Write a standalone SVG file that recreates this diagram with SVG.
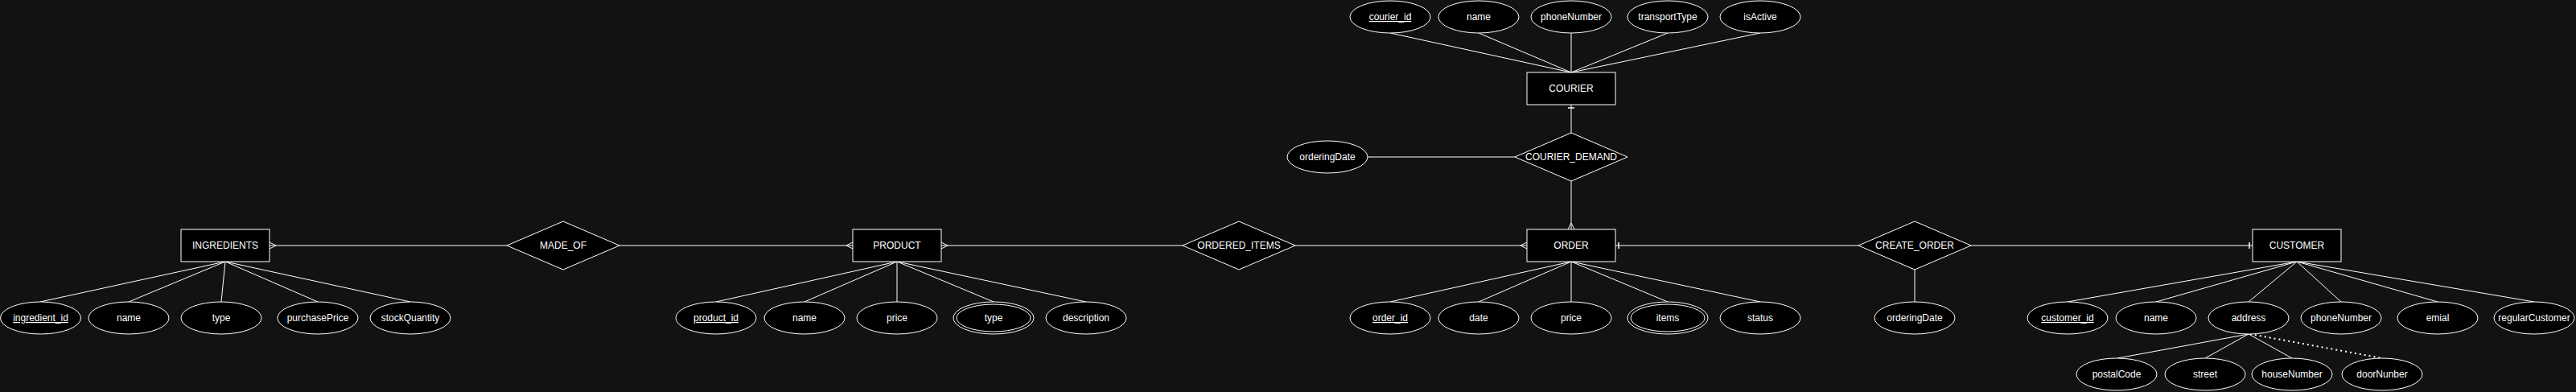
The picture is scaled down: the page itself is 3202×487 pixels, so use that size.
<svg xmlns="http://www.w3.org/2000/svg" width="3202" height="487" viewBox="0 0 3202 487">
<style>
.bg{fill:#121212}
.ent{fill:#000;stroke:#fff;stroke-width:1}
.rel{fill:#000;stroke:#fff;stroke-width:1}
.att{fill:#000;stroke:#fff;stroke-width:1}
.t{font-family:"Liberation Sans",Arial,Helvetica,sans-serif;font-size:12px;fill:#fff;text-anchor:middle}
.key{text-decoration:underline}
.ln{fill:none;stroke:#fff;stroke-width:1}
.dot{fill:none;stroke:#fff;stroke-width:2;stroke-dasharray:2 4}
</style>
<defs>
<marker id="many" markerUnits="userSpaceOnUse" markerWidth="20" markerHeight="20" viewBox="0 0 20 20" refX="10" refY="10" orient="auto" overflow="visible">
<path d="M2,10 L10,6 M2,10 L10,14" fill="none" stroke="#fff" stroke-width="1"/>
</marker>
<marker id="one" markerUnits="userSpaceOnUse" markerWidth="20" markerHeight="20" viewBox="0 0 20 20" refX="10" refY="10" orient="auto" overflow="visible">
<path d="M6,6 L6,14" fill="none" stroke="#fff" stroke-width="1.5"/>
</marker>
</defs>
<rect class="bg" x="0" y="0" width="3202" height="487"/>

<g id="connectors">
<!-- relationships -->
<path class="ln" d="M630,305 L335,305" marker-end="url(#many)"/>
<path class="ln" d="M770,305 L1060,305" marker-end="url(#many)"/>
<path class="ln" d="M1470,305 L1170,305" marker-end="url(#many)"/>
<path class="ln" d="M1610,305 L1898,305" marker-end="url(#many)"/>
<path class="ln" d="M2310,305 L2008,305" marker-end="url(#one)"/>
<path class="ln" d="M2450,305 L2800,305" marker-end="url(#one)"/>
<path class="ln" d="M1953,225 L1953,285" marker-end="url(#many)"/>
<path class="ln" d="M1953,165 L1953,130" marker-end="url(#one)"/>
<path class="ln" d="M1700,195 L1883,195"/>
<path class="ln" d="M2380,335 L2380,375"/>
<!-- courier attributes -->
<path class="ln" d="M1728,41 L1953,90"/>
<path class="ln" d="M1838,41 L1953,90"/>
<path class="ln" d="M1953,41 L1953,90"/>
<path class="ln" d="M2073,41 L1953,90"/>
<path class="ln" d="M2188,41 L1953,90"/>
<!-- ingredients attributes -->
<path class="ln" d="M280,325 L50,375"/>
<path class="ln" d="M280,325 L160,375"/>
<path class="ln" d="M280,325 L275,375"/>
<path class="ln" d="M280,325 L395,375"/>
<path class="ln" d="M280,325 L510,375"/>
<!-- product attributes -->
<path class="ln" d="M1115,325 L890,375"/>
<path class="ln" d="M1115,325 L1000,375"/>
<path class="ln" d="M1115,325 L1115,375"/>
<path class="ln" d="M1115,325 L1235,375"/>
<path class="ln" d="M1115,325 L1350,375"/>
<!-- order attributes -->
<path class="ln" d="M1953,325 L1728,375"/>
<path class="ln" d="M1953,325 L1838,375"/>
<path class="ln" d="M1953,325 L1953,375"/>
<path class="ln" d="M1953,325 L2073,375"/>
<path class="ln" d="M1953,325 L2188,375"/>
<!-- customer attributes -->
<path class="ln" d="M2855,325 L2570,375"/>
<path class="ln" d="M2855,325 L2680,375"/>
<path class="ln" d="M2855,325 L2795,375"/>
<path class="ln" d="M2855,325 L2910,375"/>
<path class="ln" d="M2855,325 L3030,375"/>
<path class="ln" d="M2855,325 L3150,375"/>
<!-- address sub-attributes -->
<path class="ln" d="M2795,415 L2632,445"/>
<path class="ln" d="M2795,415 L2741,445"/>
<path class="ln" d="M2795,415 L2849,445"/>
<path class="dot" d="M2797,415 L2961,445"/>
</g>

<!-- entities -->
<g id="ingredients"><rect class="ent" x="225" y="285" width="110" height="40"/><text class="t" x="280" y="309">INGREDIENTS</text></g>
<g id="product"><rect class="ent" x="1060" y="285" width="110" height="40"/><text class="t" x="1115" y="309">PRODUCT</text></g>
<g id="order"><rect class="ent" x="1898" y="285" width="110" height="40"/><text class="t" x="1953" y="309">ORDER</text></g>
<g id="courier"><rect class="ent" x="1898" y="90" width="110" height="40"/><text class="t" x="1953" y="114">COURIER</text></g>
<g id="customer"><rect class="ent" x="2800" y="285" width="110" height="40"/><text class="t" x="2855" y="309">CUSTOMER</text></g>

<!-- relationships -->
<g id="made_of"><polygon class="rel" points="630,305 700,275 770,305 700,335"/><text class="t" x="700" y="309">MADE_OF</text></g>
<g id="ordered_items"><polygon class="rel" points="1470,305 1540,275 1610,305 1540,335"/><text class="t" x="1540" y="309">ORDERED_ITEMS</text></g>
<g id="create_order"><polygon class="rel" points="2310,305 2380,275 2450,305 2380,335"/><text class="t" x="2380" y="309">CREATE_ORDER</text></g>
<g id="courier_demand"><polygon class="rel" points="1883,195 1953,165 2023,195 1953,225"/><text class="t" x="1953" y="199">COURIER_DEMAND</text></g>

<!-- courier attributes -->
<g id="courier_courier_id"><ellipse class="att" cx="1728" cy="21" rx="50" ry="20"/><text class="t key" x="1728" y="25">courier_id</text></g>
<g id="courier_name"><ellipse class="att" cx="1838" cy="21" rx="50" ry="20"/><text class="t" x="1838" y="25">name</text></g>
<g id="courier_phoneNumber"><ellipse class="att" cx="1953" cy="21" rx="50" ry="20"/><text class="t" x="1953" y="25">phoneNumber</text></g>
<g id="courier_transportType"><ellipse class="att" cx="2073" cy="21" rx="50" ry="20"/><text class="t" x="2073" y="25">transportType</text></g>
<g id="courier_isActive"><ellipse class="att" cx="2188" cy="21" rx="50" ry="20"/><text class="t" x="2188" y="25">isActive</text></g>
<g id="courier_demand_orderingDate"><ellipse class="att" cx="1650" cy="195" rx="50" ry="20"/><text class="t" x="1650" y="199">orderingDate</text></g>

<!-- ingredients attributes -->
<g id="ingredients_ingredient_id"><ellipse class="att" cx="50.5" cy="395" rx="50" ry="20"/><text class="t key" x="50.5" y="399">ingredient_id</text></g>
<g id="ingredients_name"><ellipse class="att" cx="160" cy="395" rx="50" ry="20"/><text class="t" x="160" y="399">name</text></g>
<g id="ingredients_type"><ellipse class="att" cx="275" cy="395" rx="50" ry="20"/><text class="t" x="275" y="399">type</text></g>
<g id="ingredients_purchasePrice"><ellipse class="att" cx="395" cy="395" rx="50" ry="20"/><text class="t" x="395" y="399">purchasePrice</text></g>
<g id="ingredients_stockQuantity"><ellipse class="att" cx="510" cy="395" rx="50" ry="20"/><text class="t" x="510" y="399">stockQuantity</text></g>

<!-- product attributes -->
<g id="product_product_id"><ellipse class="att" cx="890" cy="395" rx="50" ry="20"/><text class="t key" x="890" y="399">product_id</text></g>
<g id="product_name"><ellipse class="att" cx="1000" cy="395" rx="50" ry="20"/><text class="t" x="1000" y="399">name</text></g>
<g id="product_price"><ellipse class="att" cx="1115" cy="395" rx="50" ry="20"/><text class="t" x="1115" y="399">price</text></g>
<g id="product_type"><ellipse class="att" cx="1235" cy="395" rx="50" ry="20"/><ellipse class="att" cx="1235" cy="395" rx="46" ry="17"/><text class="t" x="1235" y="399">type</text></g>
<g id="product_description"><ellipse class="att" cx="1350" cy="395" rx="50" ry="20"/><text class="t" x="1350" y="399">description</text></g>

<!-- order attributes -->
<g id="order_order_id"><ellipse class="att" cx="1728" cy="395" rx="50" ry="20"/><text class="t key" x="1728" y="399">order_id</text></g>
<g id="order_date"><ellipse class="att" cx="1838" cy="395" rx="50" ry="20"/><text class="t" x="1838" y="399">date</text></g>
<g id="order_price"><ellipse class="att" cx="1953" cy="395" rx="50" ry="20"/><text class="t" x="1953" y="399">price</text></g>
<g id="order_items"><ellipse class="att" cx="2073" cy="395" rx="50" ry="20"/><ellipse class="att" cx="2073" cy="395" rx="46" ry="17"/><text class="t" x="2073" y="399">items</text></g>
<g id="order_status"><ellipse class="att" cx="2188" cy="395" rx="50" ry="20"/><text class="t" x="2188" y="399">status</text></g>

<g id="create_order_orderingDate"><ellipse class="att" cx="2380" cy="395" rx="50" ry="20"/><text class="t" x="2380" y="399">orderingDate</text></g>

<!-- customer attributes -->
<g id="customer_customer_id"><ellipse class="att" cx="2570" cy="395" rx="50" ry="20"/><text class="t key" x="2570" y="399">customer_id</text></g>
<g id="customer_name"><ellipse class="att" cx="2680" cy="395" rx="50" ry="20"/><text class="t" x="2680" y="399">name</text></g>
<g id="customer_address"><ellipse class="att" cx="2795" cy="395" rx="50" ry="20"/><text class="t" x="2795" y="399">address</text></g>
<g id="customer_phoneNumber"><ellipse class="att" cx="2910" cy="395" rx="50" ry="20"/><text class="t" x="2910" y="399">phoneNumber</text></g>
<g id="customer_emial"><ellipse class="att" cx="3030" cy="395" rx="50" ry="20"/><text class="t" x="3030" y="399">emial</text></g>
<g id="customer_regularCustomer"><ellipse class="att" cx="3150" cy="395" rx="50" ry="20"/><text class="t" x="3150" y="399">regularCustomer</text></g>

<!-- address sub-attributes -->
<g id="address_postalCode"><ellipse class="att" cx="2631" cy="465" rx="50" ry="20"/><text class="t" x="2631" y="469">postalCode</text></g>
<g id="address_street"><ellipse class="att" cx="2741" cy="465" rx="50" ry="20"/><text class="t" x="2741" y="469">street</text></g>
<g id="address_houseNumber"><ellipse class="att" cx="2849" cy="465" rx="50" ry="20"/><text class="t" x="2849" y="469">houseNumber</text></g>
<g id="address_doorNunber"><ellipse class="att" cx="2961" cy="465" rx="50" ry="20"/><text class="t" x="2961" y="469">doorNunber</text></g>
</svg>
